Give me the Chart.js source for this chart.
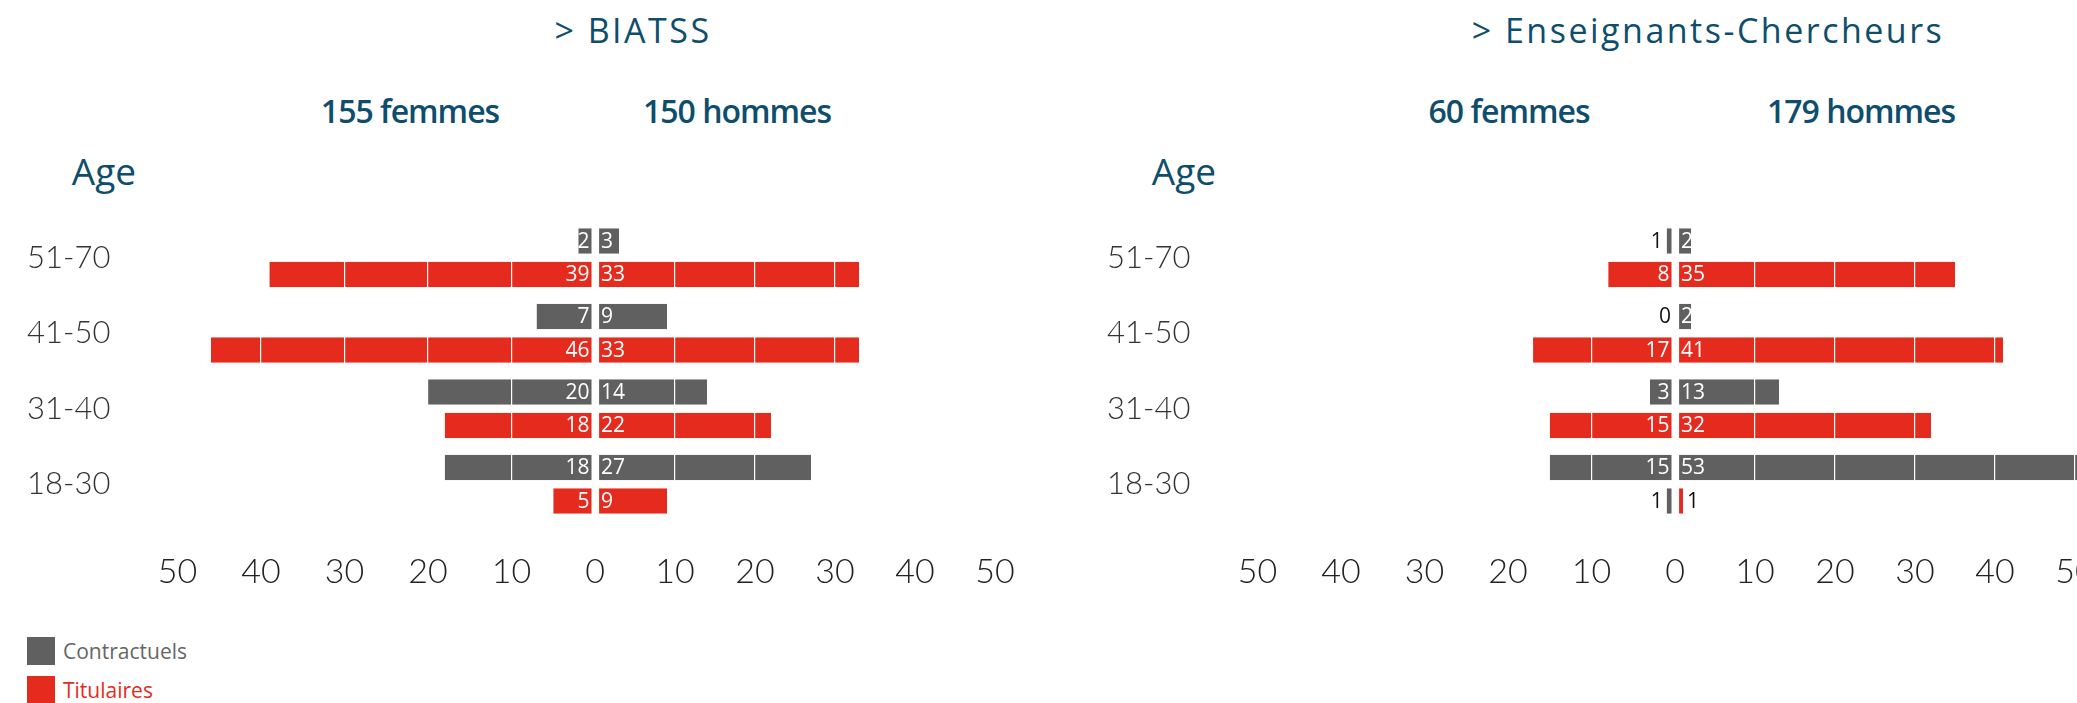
<!DOCTYPE html>
<html lang="fr">
<head>
<meta charset="utf-8">
<script src="https://cdn.jsdelivr.net/npm/chart.js@4.4.1/dist/chart.umd.min.js"></script>
<style>
  html, body { margin: 0; padding: 0; background: #fff; overflow: hidden; }
  #page { position: relative; width: 2077px; height: 703px; overflow: hidden; }
  .txt { position: absolute; white-space: nowrap; line-height: 1; transform: translate(-50%, -50%);
         font-family: "Open Sans", sans-serif; color: #0e4e6c; }
  .titre { font-size: 34px; letter-spacing: 2.5px; }
  .total { font-size: 32px; font-weight: 600; letter-spacing: -1px; }
  .age { font-size: 37px; }
  .panel { position: absolute; top: 0; width: 1080px; height: 620px; }
  .leg { position: absolute; left: 27px; width: 28px; height: 28px; }
  .legtxt { position: absolute; left: 63px; font-family: "Open Sans", sans-serif; font-size: 21px; font-weight: 500;
            line-height: 1; transform: translateY(-50%); }
</style>
</head>
<body>
<div id="page">
  <div class="txt titre" style="left:633px;top:30px">&gt; BIATSS</div>
  <div class="txt titre" style="left:1708px;top:30px">&gt; Enseignants-Chercheurs</div>
  <div class="txt total" style="left:410px;top:111px">155 femmes</div>
  <div class="txt total" style="left:737px;top:111px">150 hommes</div>
  <div class="txt total" style="left:1509px;top:111px">60 femmes</div>
  <div class="txt total" style="left:1861px;top:111px">179 hommes</div>
  <div class="txt age" style="left:104px;top:170px">Age</div>
  <div class="txt age" style="left:1184px;top:170px">Age</div>

  <div class="panel" style="left:0"><canvas id="biatss" width="1080" height="620"></canvas></div>
  <div class="panel" style="left:1080px"><canvas id="ec" width="1080" height="620"></canvas></div>

  <div class="leg" style="top:637px;background:#606060"></div>
  <div class="legtxt" style="top:651px;color:#666">Contractuels</div>
  <div class="leg" style="top:676px;background:#e42b1e"></div>
  <div class="legtxt" style="top:690px;color:#e42b1e">Titulaires</div>
</div>
<script>
// tranches d'age, du haut vers le bas
let ages = ['51-70', '41-50', '31-40', '18-30'];

// BIATSS
let biatssContractuelsFemmes = [2, 7, 20, 18];
let biatssContractuelsHommes = [3, 9, 14, 27];
let biatssTitulairesFemmes = [39, 46, 18, 5];
let biatssTitulairesHommes = [33, 33, 22, 9];

// Enseignants-Chercheurs
let ecContractuelsFemmes = [1, 0, 3, 15];
let ecContractuelsHommes = [2, 2, 13, 53];
let ecTitulairesFemmes = [8, 17, 15, 1];
let ecTitulairesHommes = [35, 41, 32, 1];

// graduations de l'axe (femmes a gauche, hommes a droite)
let graduationsFemmes = [-50, -40, -30, -20, -10];
let graduationsHommes = [0, 10, 20, 30, 40, 50];

const GRIS = '#606060';
const ROUGE = '#e42b1e';
const ECART = 3.5;
// demi-largeur de la zone du graphique et echelle de chaque cote (px par personne)
const DEMI = 445;
const PX_FEMMES = 8.35;
const PX_HOMMES = 8.0;

// etiquettes des valeurs, dessinees apres la grille
const valueLabels = {
  id: 'valueLabels',
  afterLayout(chart) {
    // l'axe des hommes partage la place de celui des femmes
    const f = chart.scales.xF, h = chart.scales.xH;
    h.top = f.top;
    h.bottom = f.bottom;
    h.height = f.height;
  },
  afterDraw(chart) {
    const ctx = chart.ctx;
    ctx.save();
    ctx.font = '400 21px "Open Sans"';
    ctx.textBaseline = 'middle';
    chart.data.datasets.forEach((ds, i) => {
      const meta = chart.getDatasetMeta(i);
      const femme = ds.xAxisID === 'xF';
      meta.data.forEach((bar, j) => {
        const v = Math.abs(ds.data[j]);
        const p = bar.getProps(['x', 'y', 'base'], true);
        let x;
        ctx.textAlign = femme ? 'right' : 'left';
        if (v >= 2) {
          ctx.fillStyle = '#fff';
          x = femme ? p.base - ECART - 2 : p.base + ECART + 2;
        } else {
          ctx.fillStyle = '#111';
          x = femme ? p.x - 4 : p.x + 4;
        }
        ctx.fillText(String(v), x, p.y + 1);
      });
    });
    ctx.restore();
  }
};

function axe(graduations, pxParUnite, poids, hauteur) {
  return {
    type: 'linear',
    position: 'bottom',
    weight: poids,
    min: -DEMI / pxParUnite,
    max: DEMI / pxParUnite,
    afterBuildTicks: scale => { scale.ticks = graduations.map(v => ({ value: v })); },
    afterFit: scale => { scale.height = hauteur; },
    grid: { color: '#fff', lineWidth: 1.2, z: 1, drawTicks: false },
    border: { display: false },
    ticks: {
      callback: v => Math.abs(v),
      color: '#222',
      padding: 30,
      font: { family: 'Lato', weight: 300, size: 34 }
    }
  };
}

function pyramide(id, cf, ch, tf, th, tfCouleurs) {
  const neg = arr => arr.map(v => -v);
  const base = { borderColor: '#fff', borderSkipped: false, categoryPercentage: 0.887, barPercentage: 0.76 };
  return new Chart(document.getElementById(id), {
    type: 'bar',
    data: {
      labels: ages,
      datasets: [
        Object.assign({ label: 'Contractuels', xAxisID: 'xF', stack: 'c', data: neg(cf), backgroundColor: GRIS, borderWidth: { right: ECART } }, base),
        Object.assign({ label: 'Contractuels', xAxisID: 'xH', stack: 'c', data: ch, backgroundColor: GRIS, borderWidth: { left: ECART } }, base),
        Object.assign({ label: 'Titulaires', xAxisID: 'xF', stack: 't', data: neg(tf), backgroundColor: tfCouleurs, borderWidth: { right: ECART } }, base),
        Object.assign({ label: 'Titulaires', xAxisID: 'xH', stack: 't', data: th, backgroundColor: ROUGE, borderWidth: { left: ECART } }, base)
      ]
    },
    options: {
      indexAxis: 'y',
      responsive: false,
      animation: false,
      layout: { padding: { left: 27, top: 220, right: 40, bottom: 0 } },
      plugins: { legend: { display: false }, tooltip: { enabled: false } },
      scales: {
        xF: axe(graduationsFemmes, PX_FEMMES, 1, 98),
        xH: axe(graduationsHommes, PX_HOMMES, 0, 0),
        y: {
          afterFit: scale => { scale.width = 123; },
          grid: { display: false },
          border: { display: false },
          ticks: {
            crossAlign: 'far',
            color: '#333',
            font: { family: 'Lato', weight: 300, size: 31 }
          }
        }
      }
    },
    plugins: [valueLabels]
  });
}

pyramide('biatss', biatssContractuelsFemmes, biatssContractuelsHommes, biatssTitulairesFemmes, biatssTitulairesHommes,
  [ROUGE, ROUGE, ROUGE, ROUGE]);
pyramide('ec', ecContractuelsFemmes, ecContractuelsHommes, ecTitulairesFemmes, ecTitulairesHommes,
  [ROUGE, ROUGE, ROUGE, GRIS]);
</script>
</body>
</html>
